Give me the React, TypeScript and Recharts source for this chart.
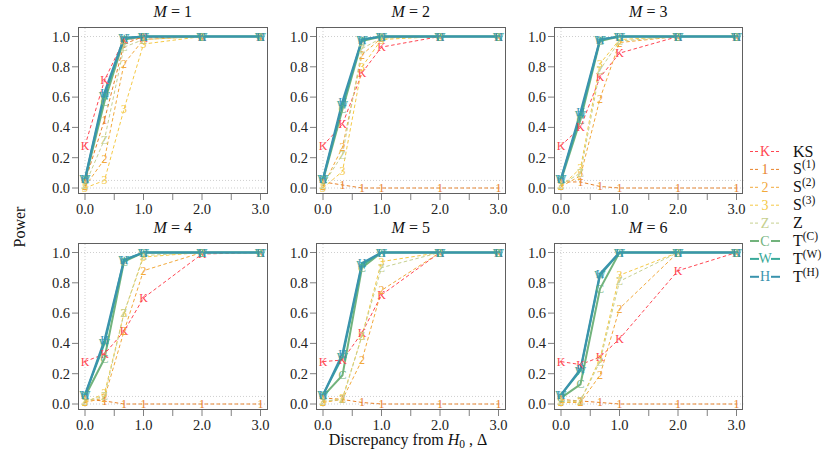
import React from "react";
import { LineChart, Line, XAxis, YAxis, ReferenceLine } from "recharts";

// Discrepancy values (x positions of simulated points)
const DELTA = [0, 0.333, 0.667, 1, 2, 3];
const PANELS = ["1", "2", "3", "4", "5", "6"];
const X_TICKS = [0, 0.5, 1, 1.5, 2, 2.5, 3];
const Y_TICKS = [0, 0.2, 0.4, 0.6, 0.8, 1];

// Power per panel (M = 1..6), one row per panel
const KS = [
  [0.28, 0.71, 0.98, 0.99, 1, 1],
  [0.28, 0.42, 0.76, 0.93, 1, 1],
  [0.28, 0.4, 0.73, 0.89, 1, 1],
  [0.28, 0.33, 0.48, 0.7, 0.99, 1],
  [0.28, 0.29, 0.47, 0.72, 1, 1],
  [0.28, 0.26, 0.31, 0.43, 0.88, 1],
];
const S1 = [
  [0.04, 0.45, 0.95, 1, 1, 1],
  [0.04, 0.02, 0.0, 0.0, 0, 0],
  [0.04, 0.04, 0.01, 0.0, 0, 0],
  [0.03, 0.02, 0.0, 0.0, 0, 0],
  [0.04, 0.03, 0.01, 0.0, 0, 0],
  [0.03, 0.02, 0.01, 0.0, 0, 0],
];
const S2 = [
  [0.01, 0.19, 0.82, 0.98, 1, 1],
  [0.01, 0.27, 0.88, 0.99, 1, 1],
  [0.01, 0.08, 0.59, 0.96, 1, 1],
  [0.01, 0.04, 0.48, 0.88, 1, 1],
  [0.01, 0.03, 0.29, 0.75, 1, 1],
  [0.01, 0.01, 0.19, 0.63, 1, 1],
];
const S3 = [
  [0.0, 0.05, 0.52, 0.95, 1, 1],
  [0.0, 0.11, 0.8, 0.98, 1, 1],
  [0.01, 0.13, 0.82, 0.98, 1, 1],
  [0.01, 0.07, 0.6, 0.97, 1, 1],
  [0.01, 0.04, 0.45, 0.94, 1, 1],
  [0.01, 0.02, 0.3, 0.85, 1, 1],
];
const ZS = [
  [0.02, 0.32, 0.93, 0.98, 1, 1],
  [0.02, 0.22, 0.92, 0.99, 1, 1],
  [0.02, 0.1, 0.78, 0.97, 1, 1],
  [0.02, 0.05, 0.6, 0.98, 1, 1],
  [0.02, 0.03, 0.45, 0.9, 1, 1],
  [0.02, 0.02, 0.28, 0.81, 1, 1],
];
const TC = [
  [0.05, 0.57, 0.98, 1, 1, 1],
  [0.05, 0.52, 0.97, 1, 1, 1],
  [0.05, 0.45, 0.97, 1, 1, 1],
  [0.05, 0.3, 0.94, 1, 1, 1],
  [0.05, 0.19, 0.9, 1, 1, 1],
  [0.04, 0.13, 0.76, 1, 1, 1],
];
const TW = [
  [0.06, 0.61, 0.99, 1, 1, 1],
  [0.06, 0.55, 0.98, 1, 1, 1],
  [0.06, 0.48, 0.98, 1, 1, 1],
  [0.06, 0.4, 0.95, 1, 1, 1],
  [0.06, 0.31, 0.92, 1, 1, 1],
  [0.06, 0.22, 0.85, 1, 1, 1],
];
const TH = [
  [0.06, 0.63, 0.99, 1, 1, 1],
  [0.06, 0.57, 0.98, 1, 1, 1],
  [0.06, 0.5, 0.98, 1, 1, 1],
  [0.06, 0.42, 0.95, 1, 1, 1],
  [0.06, 0.33, 0.93, 1, 1, 1],
  [0.06, 0.23, 0.86, 1, 1, 1],
];

const SERIES = [
  { key: "KS", vals: KS, mark: "K", color: "#FF4652", dash: true, width: 1, label: "KS", sup: "" },
  { key: "S1", vals: S1, mark: "1", color: "#E8822A", dash: true, width: 1, label: "S", sup: "(1)" },
  { key: "S2", vals: S2, mark: "2", color: "#F2A93B", dash: true, width: 1, label: "S", sup: "(2)" },
  { key: "S3", vals: S3, mark: "3", color: "#F5C945", dash: true, width: 1, label: "S", sup: "(3)" },
  { key: "Z", vals: ZS, mark: "Z", color: "#C6D08F", dash: true, width: 1, label: "Z", sup: "" },
  { key: "TC", vals: TC, mark: "C", color: "#72B37C", dash: false, width: 2, label: "T", sup: "(C)" },
  { key: "TW", vals: TW, mark: "W", color: "#3AAA9A", dash: false, width: 2, label: "T", sup: "(W)" },
  { key: "TH", vals: TH, mark: "H", color: "#3A93AD", dash: false, width: 2.2, label: "T", sup: "(H)" },
];

const FONT = "Liberation Serif";
const COL_LEFT = [78, 316, 553.5];
const ROW_TOP = [26.5, 242.5];
const BOX_W = 189.5;
const BOX_H = 167;
const ML = 60;
const MT = 30;

function buildRows(p: number) {
  return DELTA.map((d, i) => {
    const row: any = { x: d };
    SERIES.forEach((s) => {
      row[s.key] = s.vals[p][i];
    });
    return row;
  });
}

function makeDot(s: any) {
  return (props: any) => {
    const { cx, cy, index } = props;
    if (cx == null || cy == null) return <g key={`${s.key}-${index}`} />;
    return (
      <text
        key={`${s.key}-${index}`}
        x={cx}
        y={cy}
        textAnchor="middle"
        dominantBaseline="central"
        fill={s.color}
        style={{ fontFamily: FONT, fontSize: 12 }}
      >
        {s.mark}
      </text>
    );
  };
}

function XTick(props: any) {
  const { x, y, payload } = props;
  const v = payload.value;
  if (!Number.isInteger(v)) return <g />;
  return (
    <text x={x} y={y} dy={11} textAnchor="middle" fill="#222" style={{ fontFamily: FONT, fontSize: 14.5 }}>
      {v.toFixed(1)}
    </text>
  );
}

function YTick(props: any) {
  const { x, y, payload } = props;
  return (
    <text x={x} y={y} dy={5} textAnchor="end" fill="#222" style={{ fontFamily: FONT, fontSize: 14.5 }}>
      {payload.value.toFixed(1)}
    </text>
  );
}

function Panel({ p }: { p: number }) {
  const col = p % 3;
  const row = Math.floor(p / 3);
  const boxLeft = COL_LEFT[col];
  const boxTop = ROW_TOP[row];
  const data = buildRows(p);
  const grid = { stroke: "#cfcfcf", strokeDasharray: "1 2", strokeWidth: 1 };
  return (
    <>
      <div style={{ position: "absolute", left: boxLeft - ML, top: boxTop - MT }}>
        <LineChart
          width={BOX_W + ML + 10}
          height={BOX_H + MT + 40}
          data={data}
          margin={{ top: MT, right: 10, bottom: 0, left: 0 }}
        >
          <XAxis
            dataKey="x"
            type="number"
            domain={[0, 3]}
            ticks={X_TICKS}
            padding={{ left: 7, right: 7 }}
            axisLine={false}
            tickLine={{ stroke: "#808080" }}
            tickSize={6}
            tickMargin={3}
            height={40}
            tick={<XTick />}
            interval={0}
          />
          <YAxis
            type="number"
            domain={[0, 1]}
            ticks={Y_TICKS}
            padding={{ top: 9.5, bottom: 6 }}
            axisLine={false}
            tickLine={{ stroke: "#808080" }}
            tickSize={6}
            tickMargin={2}
            width={ML}
            tick={<YTick />}
            interval={0}
          />
          <ReferenceLine y={1} {...grid} />
          <ReferenceLine y={0} {...grid} />
          <ReferenceLine y={0.05} {...grid} />
          <ReferenceLine x={0} {...grid} />
          {SERIES.map((s) => (
            <Line
              key={s.key}
              dataKey={s.key}
              type="linear"
              stroke={s.color}
              strokeWidth={s.width}
              strokeDasharray={s.dash ? "3.5 2.5" : undefined}
              dot={makeDot(s)}
              activeDot={false}
              isAnimationActive={false}
            />
          ))}
        </LineChart>
      </div>
      <div
        style={{
          position: "absolute",
          left: boxLeft,
          top: boxTop,
          width: BOX_W,
          height: BOX_H,
          border: "1px solid #606060",
          boxSizing: "border-box",
          pointerEvents: "none",
        }}
      />
      <div
        style={{
          position: "absolute",
          left: boxLeft,
          width: BOX_W,
          top: boxTop - 24,
          textAlign: "center",
          fontFamily: FONT,
          fontSize: 16,
          fontWeight: "normal",
          color: "#111",
          lineHeight: "18px",
        }}
      >
        <i>M</i> = {PANELS[p]}
      </div>
    </>
  );
}

function Legend() {
  const y0 = 151.5;
  const dy = 17.9;
  return (
    <svg width={90} height={160} style={{ position: "absolute", left: 740, top: 130 }} viewBox="740 130 90 160">
      {SERIES.map((s, i) => {
        const y = y0 + i * dy;
        return (
          <g key={s.key}>
            <line x1={750} x2={759} y1={y} y2={y} stroke={s.color} strokeWidth={s.dash ? 1 : 2} strokeDasharray={s.dash ? "3 2" : undefined} />
            <line x1={771} x2={780} y1={y} y2={y} stroke={s.color} strokeWidth={s.dash ? 1 : 2} strokeDasharray={s.dash ? "3 2" : undefined} />
            <text x={765} y={y} textAnchor="middle" dominantBaseline="central" fill={s.color} style={{ fontFamily: FONT, fontSize: 14 }}>
              {s.mark}
            </text>
            <text x={793} y={y + 5} fill="#111" style={{ fontFamily: FONT, fontSize: 16 }}>
              {s.label}
              {s.sup ? (
                <tspan dy={-6} style={{ fontSize: 11.5 }}>
                  {s.sup}
                </tspan>
              ) : null}
            </text>
          </g>
        );
      })}
    </svg>
  );
}

export default function App() {
  return (
    <div
      style={{
        position: "absolute",
        left: 0,
        top: 0,
        width: 830,
        height: 455,
        background: "#fff",
        overflow: "hidden",
        fontFamily: FONT,
      }}
    >
      {PANELS.map((_, p) => (
        <Panel key={p} p={p} />
      ))}
      <Legend />
      <svg width={830} height={455} style={{ position: "absolute", left: 0, top: 0, pointerEvents: "none" }}>
        <text x={0} y={0} transform="translate(25 227) rotate(-90)" textAnchor="middle" fill="#111" style={{ fontFamily: FONT, fontSize: 16 }}>
          Power
        </text>
        <text x={408} y={445} textAnchor="middle" fill="#111" style={{ fontFamily: FONT, fontSize: 16 }}>
          Discrepancy from <tspan fontStyle="italic">H</tspan>
          <tspan dy={3} style={{ fontSize: 11.5 }}>0</tspan>
          <tspan dy={-3}> , Δ</tspan>
        </text>
      </svg>
    </div>
  );
}
